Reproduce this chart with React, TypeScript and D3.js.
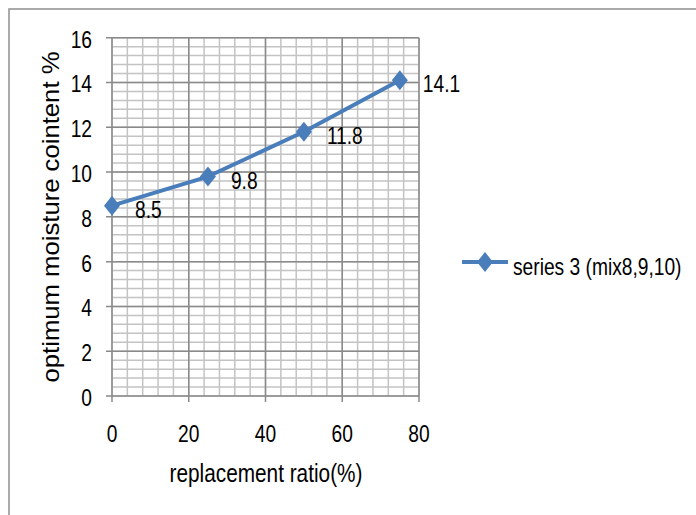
import React from "react";
import * as d3 from "d3";

const replacementRatio = [0, 25, 50, 75];
const moistureContent = [8.5, 9.8, 11.8, 14.1];
const xTicks = [0, 20, 40, 60, 80];
const yTicks = [0, 2, 4, 6, 8, 10, 12, 14, 16];
const seriesName = "series 3 (mix8,9,10)";
const xTitle = "replacement ratio(%)";
const yTitle = "optimum moisture cointent %";

const W = 696;
const H = 515;
const FONT = "'Liberation Sans', Arial, sans-serif";
const BLUE = "#4A7EBB";
const SX = 0.8;

function NText(props: {
  x: number;
  y: number;
  anchor?: "start" | "middle" | "end";
  size: number;
  children: React.ReactNode;
}) {
  return (
    <text
      transform={`translate(${props.x},${props.y}) scale(${SX},1)`}
      textAnchor={props.anchor || "start"}
      fontFamily={FONT}
      fontSize={props.size}
      fill="#000"
    >
      {props.children}
    </text>
  );
}

export default function App() {
  const x = d3.scaleLinear().domain([0, 80]).range([112, 419]);
  const y = d3.scaleLinear().domain([0, 16]).range([396, 37.7]);

  const xMinor = d3.range(0, 80.001, 4);
  const yMinor = d3.range(0, 16.001, 0.4);

  const line = d3
    .line<number>()
    .x((_, i) => x(replacementRatio[i]))
    .y((d) => y(d));

  const diamond = (cx: number, cy: number) =>
    `M${cx},${cy - 10}L${cx + 8},${cy}L${cx},${cy + 10}L${cx - 8},${cy}Z`;

  return (
    <svg
      width={W}
      height={H}
      style={{ position: "absolute", left: 0, top: 0, background: "#fff" }}
    >
      <rect x={0} y={0} width={W} height={H} fill="#fff" />
      <rect x={9} y={9} width={W + 20} height={H + 20} fill="none" stroke="#8f8f8f" strokeWidth={1.5} />

      {/* minor grid */}
      {xMinor.map((v) => (
        <line key={"xm" + v} x1={x(v)} x2={x(v)} y1={y(16)} y2={y(0)} stroke="#c3c3c3" strokeWidth={1.5} />
      ))}
      {yMinor.map((v) => (
        <line key={"ym" + v} x1={x(0)} x2={x(80)} y1={y(v)} y2={y(v)} stroke="#c3c3c3" strokeWidth={1.5} />
      ))}
      {/* major grid */}
      {xTicks.map((v) => (
        <line key={"xM" + v} x1={x(v)} x2={x(v)} y1={y(16)} y2={y(0) + 6} stroke="#8a8a8a" strokeWidth={1.5} />
      ))}
      {yTicks.map((v) => (
        <line key={"yM" + v} x1={x(0) - 6} x2={x(80)} y1={y(v)} y2={y(v)} stroke="#8a8a8a" strokeWidth={1.5} />
      ))}

      {/* tick labels */}
      {yTicks.map((v) => (
        <NText key={"yl" + v} x={92} y={y(v) + 10} anchor="end" size={24}>
          {v}
        </NText>
      ))}
      {xTicks.map((v) => (
        <NText key={"xl" + v} x={x(v)} y={442} anchor="middle" size={24}>
          {v}
        </NText>
      ))}

      {/* axis titles */}
      <NText x={266} y={482} anchor="middle" size={26}>
        {xTitle}
      </NText>
      <text
        transform={`translate(59,217) rotate(-90)`}
        textAnchor="middle"
        fontFamily={FONT}
        fontSize={24}
        textLength={331}
        lengthAdjust="spacingAndGlyphs"
      >
        {yTitle}
      </text>

      {/* series */}
      <path d={line(moistureContent) || ""} fill="none" stroke={BLUE} strokeWidth={4} strokeLinejoin="round" />
      {moistureContent.map((v, i) => (
        <path key={"m" + i} d={diamond(x(replacementRatio[i]), y(v))} fill={BLUE} />
      ))}
      {moistureContent.map((v, i) => (
        <NText key={"dl" + i} x={x(replacementRatio[i]) + 23} y={y(v) + 12} size={24}>
          {v}
        </NText>
      ))}

      {/* legend */}
      <line x1={462} x2={508} y1={262} y2={262} stroke={BLUE} strokeWidth={4} />
      <path d={diamond(485, 262)} fill={BLUE} />
      <NText x={513} y={275} size={24}>
        {seriesName}
      </NText>
    </svg>
  );
}
